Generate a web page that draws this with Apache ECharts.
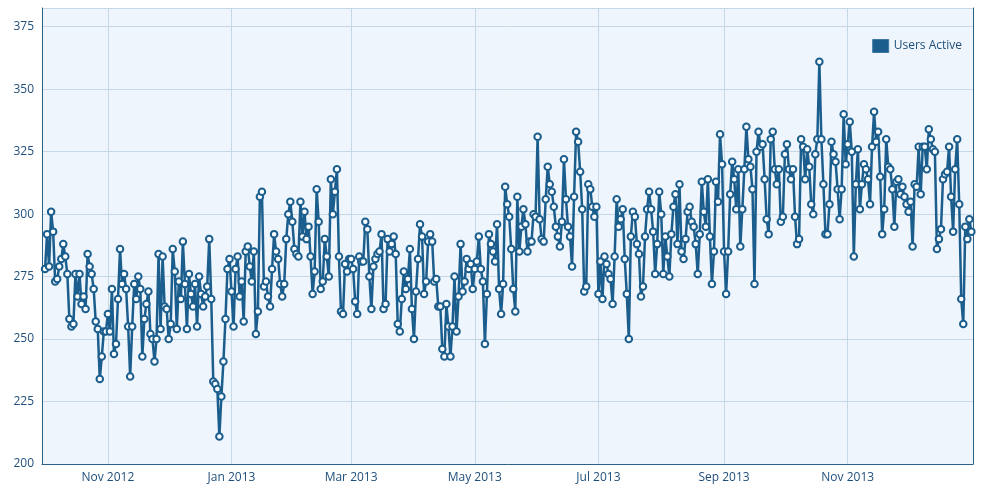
<!DOCTYPE html>
<html>
<head>
<meta charset="utf-8">
<script src="https://cdn.jsdelivr.net/npm/echarts@6/dist/echarts.min.js"></script>
<style>
  html, body { margin: 0; padding: 0; background: #fff; }
  #chart { width: 989px; height: 497px; }
</style>
</head>
<body>
<div id="chart"></div>
<script>
// daily values, first one is 1 Oct 2012
const seriesName = "Users Active";
const startDay = [2012, 9, 1];

const part1 = [278, 292, 279, 301, 293, 273, 274, 279, 282, 288, 283, 276, 258, 255, 256, 276, 267, 276, 264, 267, 262, 284, 279, 276, 270, 257, 254, 234, 243, 253, 253,
  260, 253, 270, 244, 248, 266, 286, 272, 276, 270, 255, 235, 255, 272, 266, 275, 270, 243, 258, 264, 269, 252, 250, 241, 250, 284, 254, 283, 263, 262, 250,
  256, 286, 277, 254, 273, 266, 289, 272, 254, 276, 268, 263, 272, 255, 275, 268, 263, 267, 271, 290, 266, 233, 232, 230, 211, 227, 241, 258, 278, 282, 269];
const part2 = [255, 278, 283, 267, 273, 257, 285, 287, 279, 273, 285, 252, 261, 307, 309, 271, 273, 267, 263, 278, 292, 285, 282, 272, 267, 272, 290, 300, 305, 297, 286,
  284, 283, 305, 291, 301, 290, 295, 283, 268, 277, 310, 297, 270, 273, 290, 283, 275, 314, 300, 309, 318, 283, 261, 260, 280, 277, 282,
  282, 278, 265, 260, 283, 281, 281, 297, 294, 275, 262, 279, 282, 284, 285, 292, 262, 264, 290, 285, 288, 291, 284, 256, 253, 266, 277, 270, 274, 286];
const part3 = [262, 250, 269, 282, 296, 291, 268, 273, 289, 292, 289, 273, 274, 263, 263, 246, 243, 264, 255, 243, 255, 275, 253, 267, 288, 269, 273, 282, 278, 280,
  270, 278, 281, 291, 278, 273, 248, 268, 292, 288, 285, 281, 296, 270, 260, 272, 311, 304, 299, 286, 270, 261, 307, 285, 295, 302, 296, 285, 289, 289, 300,
  299, 331, 298, 290, 289, 306, 319, 312, 309, 303, 295, 291, 287, 297, 322, 306, 295, 291, 279, 307, 333, 329, 317, 302, 269, 271, 312, 310, 303, 299];
const part4 = [303, 268, 281, 266, 283, 280, 276, 274, 264, 283, 306, 295, 298, 302, 282, 268, 250, 291, 301, 299, 288, 284, 267, 271, 291, 302, 309, 302, 293, 276, 288,
  309, 300, 276, 291, 283, 275, 292, 303, 308, 288, 312, 285, 282, 290, 301, 303, 297, 295, 288, 276, 292, 313, 301, 295, 314, 291, 272, 285, 313, 305, 332,
  320, 285, 268, 285, 308, 321, 314, 302, 318, 287, 302, 318, 335, 322, 319, 310, 272, 325, 333, 327, 328, 314, 298, 292, 330, 333, 318, 312, 318, 297];
const part5 = [299, 324, 328, 318, 314, 318, 299, 288, 290, 330, 327, 314, 326, 319, 304, 300, 324, 330, 361, 330, 312, 292, 292, 304, 329, 324, 321, 310, 298, 310,
  340, 320, 328, 337, 325, 283, 312, 326, 302, 312, 320, 318, 314, 304, 327, 341, 329, 333, 315, 292, 302, 330, 319, 318, 310, 295, 313, 314, 308, 311,
  307, 304, 301, 305, 287, 312, 311, 327, 308, 327, 327, 318, 334, 330, 326, 325, 286, 290, 294, 314, 316, 317, 327, 307, 293, 318, 330, 304, 266, 256, 295, 290, 298, 293];

// x labels every two months, y labels every 25
const xTickMonths = [[2012, 10], [2013, 0], [2013, 2], [2013, 4], [2013, 6], [2013, 8], [2013, 10]];
const yTicks = [200, 225, 250, 275, 300, 325, 350, 375];
const monthNames = ["Jan", "Feb", "Mar", "Apr", "May", "Jun", "Jul", "Aug", "Sep", "Oct", "Nov", "Dec"];

const usersActive = [].concat(part1, part2, part3, part4, part5);
const dayMs = 24 * 3600 * 1000;
const points = usersActive.map((v, i) => [new Date(startDay[0], startDay[1], startDay[2] + i).getTime(), v]);
const xTicks = xTickMonths.map(m => new Date(m[0], m[1], 1).getTime());

const blue = "#1b5e8d";
const labelBlue = "#1f4f7a";
const gridColor = "#c6d8e5";
const font = "Open Sans";

const chart = echarts.init(document.querySelector("#chart"));
chart.setOption({
  animation: false,
  backgroundColor: "#fff",
  grid: {
    left: 42, right: 16, top: 8, bottom: 33,
    show: true, backgroundColor: "#eef5fc", borderWidth: 0
  },
  legend: {
    right: 22, top: 34,
    itemWidth: 16, itemHeight: 13, itemGap: 4,
    data: [{ name: seriesName, icon: "rect", itemStyle: { color: blue, borderColor: "#3d78a3", borderWidth: 1 } }],
    textStyle: { color: labelBlue, fontFamily: font, fontSize: 12 }
  },
  xAxis: {
    type: "value",
    scale: true,
    min: points[0][0] - 1.5 * dayMs,
    max: points[points.length - 1][0] + 0.8 * dayMs,
    axisLine: { show: true, lineStyle: { color: "#2a5f86", width: 1 } },
    axisTick: { show: false, customValues: xTicks },
    splitLine: { show: true, lineStyle: { color: gridColor, width: 1 } },
    axisLabel: {
      customValues: xTicks,
      color: labelBlue, fontFamily: font, fontSize: 12, margin: 8,
      formatter: (v) => { const d = new Date(v); return monthNames[d.getMonth()] + " " + d.getFullYear(); }
    }
  },
  yAxis: [{
    type: "value",
    min: yTicks[0], max: 382.5, interval: 25,
    axisLine: { show: true, lineStyle: { color: "#2a5f86", width: 1 } },
    axisTick: { show: false },
    splitLine: { show: true, lineStyle: { color: gridColor, width: 1 } },
    axisLabel: {
      color: labelBlue, fontFamily: font, fontSize: 12, margin: 8,
      formatter: (v) => yTicks.includes(v) ? String(v) : ""
    }
  }, {
    type: "value", position: "right",
    min: yTicks[0], max: 382.5,
    axisLine: { show: true, lineStyle: { color: "#2a5f86", width: 1 } },
    axisTick: { show: false }, axisLabel: { show: false }, splitLine: { show: false }
  }],
  series: [{
    name: seriesName,
    type: "line",
    data: points,
    showAllSymbol: true,
    symbol: "circle",
    symbolSize: 6.5,
    lineStyle: { color: blue, width: 2.5 },
    itemStyle: { color: "#ffffff", borderColor: blue, borderWidth: 2 }
  }]
});
</script>
</body>
</html>
